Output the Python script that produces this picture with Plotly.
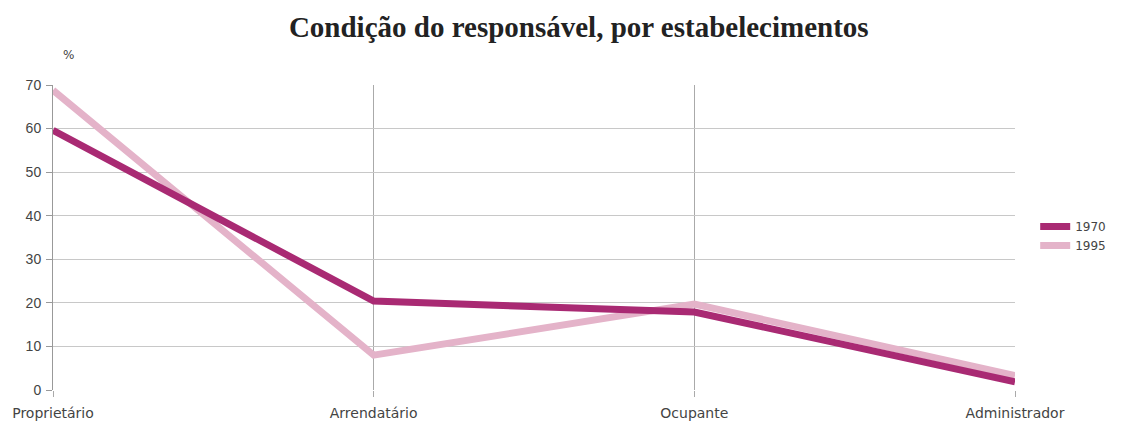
import plotly.graph_objects as go

categories = ["Proprietário", "Arrendatário", "Ocupante", "Administrador"]
series_1970 = [59.6, 20.4, 17.9, 1.9]
series_1995 = [68.8, 8.0, 19.7, 3.3]
y_ticks = [0, 10, 20, 30, 40, 50, 60, 70]

fig = go.Figure()
fig.add_trace(go.Scatter(x=categories, y=series_1995, name="1995", mode="lines",
                         line=dict(color="#e4b3c9", width=7), showlegend=True))
fig.add_trace(go.Scatter(x=categories, y=series_1970, name="1970", mode="lines",
                         line=dict(color="#a92a73", width=7)))

fig.update_layout(
    width=1137, height=423,
    margin=dict(l=45, r=130, t=77, b=41, autoexpand=False),
    paper_bgcolor="white", plot_bgcolor="white",
    title=dict(text="<b>Condição do responsável, por estabelecimentos</b>",
               x=0.502, xanchor="center", y=0.955, yanchor="middle",
               font=dict(family="Liberation Serif", size=29, color="#222")),
    font=dict(family="DejaVu Sans", size=12, color="#444"),
    legend=dict(x=1.021, y=0.505, xanchor="left", yanchor="middle",
                traceorder="reversed", font=dict(family="DejaVu Sans", size=12, color="#444"),
                bgcolor="rgba(0,0,0,0)", tracegroupgap=0),
    showlegend=True,
)
fig.update_xaxes(type="category", range=[0, 3], showgrid=True, gridcolor="#aaaaaa",
                 gridwidth=1, showline=False, ticks="outside", ticklen=6,
                 tickcolor="#aaaaaa", tickfont=dict(family="DejaVu Sans", size=14, color="#444"),
                 ticklabelstandoff=4, zeroline=False, automargin=False)
fig.update_yaxes(range=[0, 70], tickvals=y_ticks, showgrid=True, gridcolor="#c8c8c8",
                 gridwidth=1, showline=True, linecolor="#999999", linewidth=1,
                 ticks="outside", ticklen=6, tickcolor="#999999",
                 tickfont=dict(family="Liberation Sans", size=14, color="#444"),
                 ticklabelstandoff=2, zeroline=False, automargin=False)
fig.add_annotation(text="%", xref="paper", yref="paper", x=0.0156, y=1.098,
                   xanchor="center", yanchor="middle", showarrow=False,
                   font=dict(family="DejaVu Sans", size=12, color="#444"))
fig.write_html("out.html")
